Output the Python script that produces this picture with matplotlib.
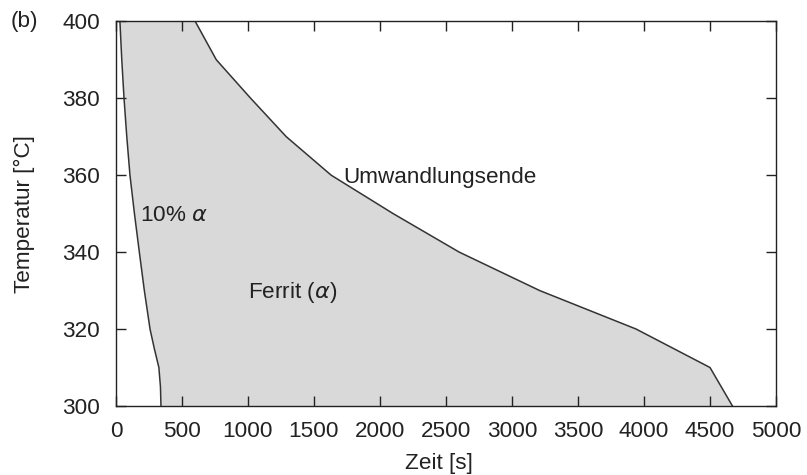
import matplotlib
matplotlib.use("Agg")
import matplotlib.pyplot as plt
import numpy as np

plt.rcParams['font.family'] = ['Liberation Sans', 'DejaVu Sans']

# 10 % ferrite line: temperature [°C] vs time [s]
start_temp = [400, 390, 380, 370, 360, 350, 340, 330, 320, 315, 310, 305, 300]
start_time = [30, 44, 61, 82, 106, 140, 177, 215, 258, 290, 325, 337, 341]

# end of transformation line
end_temp = [400, 390, 380, 370, 360, 350, 340, 330, 320, 310, 300]
end_time = [600, 760, 1020, 1290, 1630, 2100, 2600, 3210, 3940, 4500, 4670]

x_ticks = [0, 500, 1000, 1500, 2000, 2500, 3000, 3500, 4000, 4500, 5000]
y_ticks = [300, 320, 340, 360, 380, 400]

text_col = '#222222'
line_col = '#333333'
fs = 16.2

fig = plt.figure(figsize=(8.07, 4.75), dpi=100)
ax = fig.add_axes([0.1437, 0.1453, 0.8179, 0.8099])

# gray ferrite field between the two lines
t = np.union1d(start_temp, end_temp)
left = np.interp(t, start_temp[::-1], start_time[::-1])
right = np.interp(t, end_temp[::-1], end_time[::-1])
ax.fill_betweenx(t, left, right, color='#d9d9d9', lw=0, zorder=1)

ax.plot(start_time, start_temp, color=line_col, lw=1.1, zorder=2)
ax.plot(end_time, end_temp, color=line_col, lw=1.1, zorder=2)

ax.set_xlim(0, 5000)
ax.set_ylim(300, 400)
ax.set_xticks(x_ticks)
ax.set_yticks(y_ticks)
ax.tick_params(direction='in', length=7, width=1, top=True, right=True,
               labelsize=fs, colors=text_col)
ax.tick_params(axis='x', pad=10.5)
ax.tick_params(axis='y', pad=11.5)
for s in ax.spines.values():
    s.set_color(text_col)
    s.set_linewidth(1)
    s.set_zorder(3)

ax.set_xlabel('Zeit [s]', fontsize=fs, color=text_col)
ax.set_ylabel('Temperatur [°C]', fontsize=fs, color=text_col)
ax.xaxis.set_label_coords(0.49, -0.122)
ax.yaxis.set_label_coords(-0.122, 0.5)

ax.text(1720, 358, 'Umwandlungsende', fontsize=fs, color=text_col, va='baseline')
ax.text(182, 348.1, r'10% $\alpha$', fontsize=fs, color=text_col, va='baseline')
ax.text(1000, 328, r'Ferrit ($\alpha$)', fontsize=fs, color=text_col, va='baseline')
fig.text(0.013, 0.954, '(b)', fontsize=fs, color=text_col, va='center')

fig.savefig('out.png', dpi=100)
